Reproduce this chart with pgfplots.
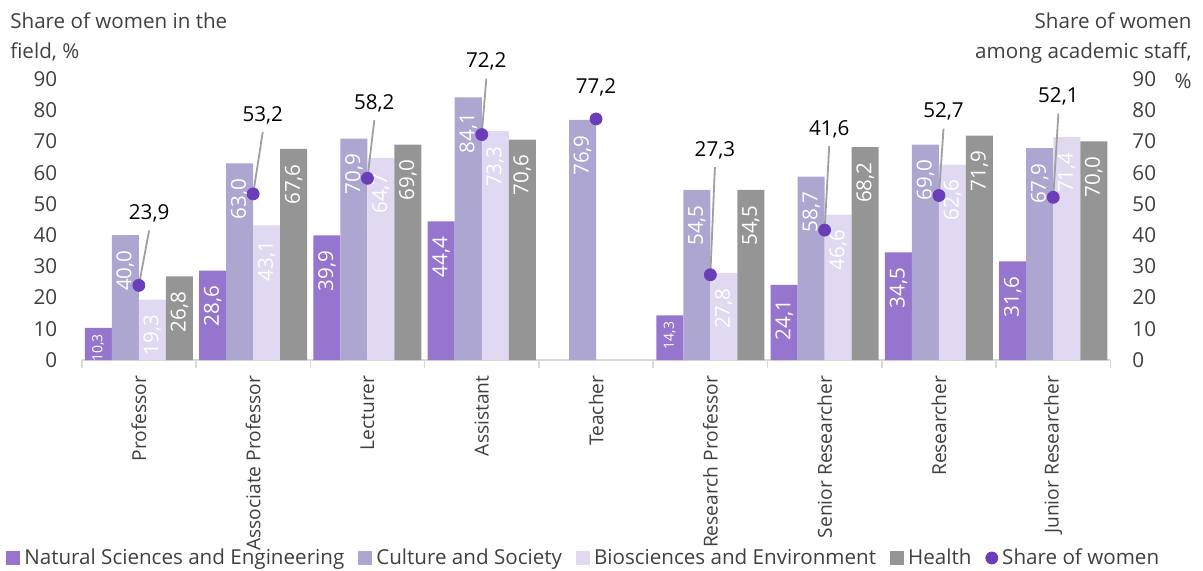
\documentclass[border=0pt]{standalone}
\usepackage{fontspec}
\setmainfont{Open Sans}
\usepackage{pgfplots}
\pgfplotsset{compat=1.18}
\definecolor{ns}{HTML}{9575CD}
\definecolor{cs}{HTML}{ACA6D1}
\definecolor{bio}{HTML}{E0D9F1}
\definecolor{hl}{HTML}{959595}
\definecolor{ptc}{HTML}{6A3DB9}
\definecolor{txt}{HTML}{404040}
\definecolor{axl}{HTML}{D9D9D9}
\definecolor{ldr}{HTML}{A0A0A0}
\newcommand\fs{\fontsize{10.3}{15}\selectfont}
\newcommand\vl[1]{\ifdim#1pt<15pt\fontsize{7}{8}\selectfont\pgfmathprintnumber[fixed,fixed zerofill,precision=1,use comma]{#1}\kern3pt\relax\else\pgfmathprintnumber[fixed,fixed zerofill,precision=1,use comma]{#1}\kern7.5pt\relax\fi}
\begin{document}
\begin{tikzpicture}
\pgfplotsset{
  base/.style={
    scale only axis, width=514.3pt, height=140.5pt,
    xmin=-0.5, xmax=8.5, ymin=0, ymax=90,
    ytick={0,10,...,90},
    /pgf/number format/assume math mode=true,
    tick label style={font=\fs, text=txt},
  },
  barstyle/.style={draw=none, fill=#1,
    visualization depends on=rawy \as \rawy,
    nodes near coords={\vl{\rawy}},
    every node near coord/.append style={rotate=90, anchor=east, text=white, font=\fs, inner sep=0pt},
  },
}
\begin{axis}[base,
  ybar=0pt, bar width=0.2364,
  axis x line*=bottom, axis y line*=left,
  x axis line style={draw=axl, line width=0.8pt},
  y axis line style={draw=none},
  ytick style={draw=none},
  xtick={0,...,8},
  xticklabels={Professor, Associate Professor, Lecturer, Assistant, Teacher, Research Professor, Senior Researcher, Researcher, Junior Researcher},
  x tick label style={rotate=90, anchor=east, font=\fontsize{9.6}{12}\selectfont},
  major x tick style={draw=none},
  minor xtick={-0.5,0.5,...,8.5},
  minor x tick style={draw=axl, line width=0.8pt},
  minor tick length=4pt, tick align=outside,
  y tick label style={xshift=-4.5pt},
  legend style={at={(rel axis cs:0.489,0)}, anchor=center, yshift=-99pt, draw=none, fill=none,
    font=\fs, text=txt, legend columns=-1,
    /tikz/every even column/.append style={column sep=5pt}},
  legend image code/.code={\path[#1, draw=none] (0pt,-3.5pt) rectangle (7pt,3.5pt);},
]
\addplot[barstyle=ns] coordinates {(0,10.3) (1,28.6) (2,39.9) (3,44.4) (5,14.3) (6,24.1) (7,34.5) (8,31.6)};
\addlegendentry{Natural Sciences and Engineering}
\addplot[barstyle=cs] coordinates {(0,40.0) (1,63.0) (2,70.9) (3,84.1) (4,76.9) (5,54.5) (6,58.7) (7,69.0) (8,67.9)};
\addlegendentry{Culture and Society}
\addplot[barstyle=bio] coordinates {(0,19.3) (1,43.1) (2,64.7) (3,73.3) (5,27.8) (6,46.6) (7,62.6) (8,71.4)};
\addlegendentry{Biosciences and Environment}
\addplot[barstyle=hl] coordinates {(0,26.8) (1,67.6) (2,69.0) (3,70.6) (5,54.5) (6,68.2) (7,71.9) (8,70.0)};
\addlegendentry{Health}
\addlegendimage{legend image code/.code={\fill[ptc] (3.5pt,0pt) circle (3pt);}}
\addlegendentry{Share of women}
\coordinate (BL) at (rel axis cs:0,0);
\coordinate (TL) at (rel axis cs:0,1);
\coordinate (TR) at (rel axis cs:1,1);
\end{axis}
\begin{axis}[base,
  axis y line*=right, axis x line=none, xtick=\empty,
  y axis line style={draw=none}, ytick style={draw=none},
  y tick label style={xshift=7.5pt},
  clip=false,
]
\draw[ldr, line width=0.9pt] (axis cs:0.09,41.5) -- (axis cs:0,23.9);
\draw[ldr, line width=0.9pt] (axis cs:1.084,73.0) -- (axis cs:1,53.2);
\draw[ldr, line width=0.9pt] (axis cs:2.06,76.8) -- (axis cs:2,58.2);
\draw[ldr, line width=0.9pt] (axis cs:3.04,90.1) -- (axis cs:3,72.2);
\draw[ldr, line width=0.9pt] (axis cs:5.04,61.8) -- (axis cs:5,27.3);
\draw[ldr, line width=0.9pt] (axis cs:6.04,68.5) -- (axis cs:6,41.6);
\draw[ldr, line width=0.9pt] (axis cs:7.04,74.1) -- (axis cs:7,52.7);
\draw[ldr, line width=0.9pt] (axis cs:8.045,78.9) -- (axis cs:8,52.1);
\addplot[only marks, mark=*, mark size=3pt, color=ptc] coordinates {(0,23.9) (1,53.2) (2,58.2) (3,72.2) (4,77.2) (5,27.3) (6,41.6) (7,52.7) (8,52.1)};
\node[font=\fs, text=black] at (axis cs:0.09,47.0) {23,9};
\node[font=\fs, text=black] at (axis cs:1.084,78.5) {53,2};
\node[font=\fs, text=black] at (axis cs:2.06,82.3) {58,2};
\node[font=\fs, text=black] at (axis cs:3.04,95.6) {72,2};
\node[font=\fs, text=black] at (axis cs:4.0,87.3) {77,2};
\node[font=\fs, text=black] at (axis cs:5.04,67.3) {27,3};
\node[font=\fs, text=black] at (axis cs:6.04,74.0) {41,6};
\node[font=\fs, text=black] at (axis cs:7.04,79.6) {52,7};
\node[font=\fs, text=black] at (axis cs:8.045,84.4) {52,1};
\end{axis}
\node[anchor=north west, align=left, font=\fs, text=txt, inner sep=0pt] at ([xshift=-35.9pt, yshift=33.5pt]TL) {Share of women in the\\field, \%};
\node[anchor=north east, align=right, font=\fs, text=txt, inner sep=0pt] at ([xshift=40.8pt, yshift=33.5pt]TR) {Share of women\\among academic staff,\\\%};
\pgfresetboundingbox
\path ([xshift=-40.85pt, yshift=-105pt]BL) rectangle ([xshift=46.3pt, yshift=39.5pt]TR);
\end{tikzpicture}
\end{document}
